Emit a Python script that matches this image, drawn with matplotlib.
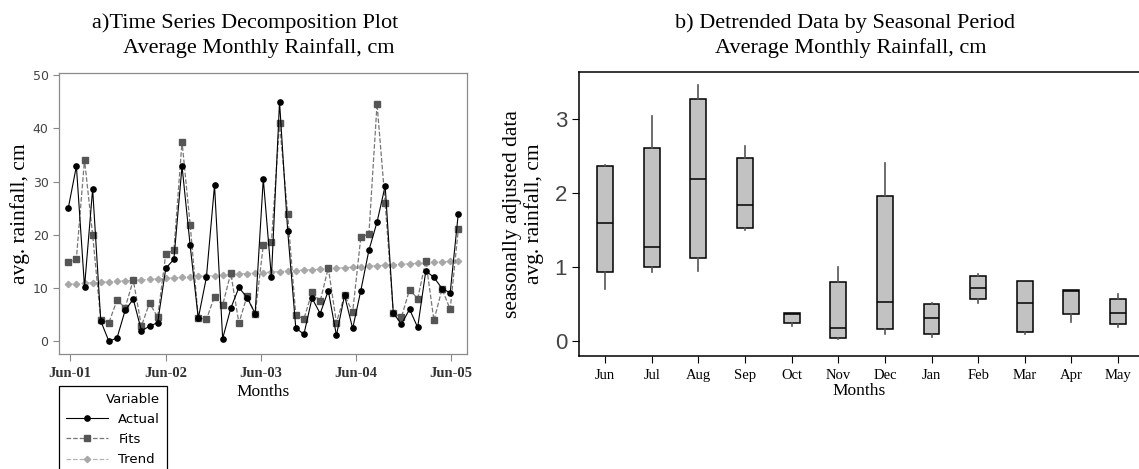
import matplotlib.pyplot as plt

# monthly rainfall series, Jun-01 .. Jun-05
ts_ticks = ['Jun-01', 'Jun-02', 'Jun-03', 'Jun-04', 'Jun-05']
ts_tick_pos = [0.2, 12.0, 23.7, 35.4, 47.1]
actual = [25.0, 32.9, 10.2, 28.6, 3.8, 0.0, 0.6, 5.8, 7.9, 2.0,
          2.8, 3.5, 13.7, 15.4, 32.9, 18.0, 4.3, 12.0, 29.3, 0.5,
          6.2, 10.1, 8.2, 5.2, 30.5, 12.0, 45.0, 20.8, 2.5, 1.3,
          8.1, 5.2, 9.5, 1.1, 8.6, 2.4, 9.5, 17.1, 22.4, 29.2,
          5.3, 3.2, 6.0, 2.6, 13.2, 12.0, 9.9, 9.1, 24.0]
fits = [14.8, 15.5, 34.1, 20.0, 4.0, 3.5, 7.7, 6.3, 11.5, 2.8,
        7.2, 4.5, 16.4, 17.1, 37.5, 21.9, 4.4, 4.1, 8.4, 6.8,
        12.8, 3.4, 8.5, 5.1, 18.0, 18.6, 41.0, 23.9, 4.9, 4.2,
        9.2, 7.5, 13.8, 3.5, 8.6, 5.5, 19.5, 20.2, 44.6, 26.0,
        5.3, 4.5, 9.7, 8.0, 15.1, 3.9, 9.8, 6.0, 21.0]
trend = [10.70, 10.79, 10.88, 10.98, 11.07, 11.16, 11.25, 11.34, 11.43, 11.53,
         11.62, 11.71, 11.80, 11.89, 11.98, 12.08, 12.17, 12.26, 12.35, 12.44,
         12.53, 12.63, 12.72, 12.81, 12.90, 12.99, 13.08, 13.18, 13.27, 13.36,
         13.45, 13.54, 13.63, 13.73, 13.82, 13.91, 14.00, 14.09, 14.18, 14.28,
         14.37, 14.46, 14.55, 14.64, 14.73, 14.83, 14.92, 15.01, 15.10]

# detrended data summarised by calendar month
season = ['Jun', 'Jul', 'Aug', 'Sep', 'Oct', 'Nov', 'Dec', 'Jan', 'Feb', 'Mar', 'Apr', 'May']
q1 = [0.93, 1.00, 1.12, 1.52, 0.24, 0.04, 0.17, 0.09, 0.57, 0.13, 0.36, 0.23]
med = [1.60, 1.27, 2.19, 1.83, 0.36, 0.18, 0.53, 0.31, 0.72, 0.52, 0.68, 0.38]
q3 = [2.36, 2.60, 3.27, 2.47, 0.38, 0.80, 1.96, 0.50, 0.88, 0.81, 0.69, 0.57]
lo = [0.70, 0.93, 0.95, 1.50, 0.21, 0.03, 0.09, 0.05, 0.51, 0.10, 0.26, 0.19]
hi = [2.37, 3.04, 3.45, 2.63, 0.38, 1.00, 2.40, 0.51, 0.91, 0.81, 0.69, 0.63]

W, H = 1139, 469
fig = plt.figure(figsize=(W / 100, H / 100), dpi=100)
serif = 'Liberation Serif'

# ---- a) decomposition plot ----
ax1 = fig.add_axes([59 / W, 1 - 354 / H, 408 / W, 281 / H])
x = list(range(len(actual)))
l_act, = ax1.plot(x, actual, '-o', color='black', lw=0.8, ms=3.8, label='Actual', zorder=4)
l_fit, = ax1.plot(x, fits, '--s', color='#777777', mfc='#555555', mec='#555555', lw=0.9,
                  ms=3.8, label='Fits', zorder=3)
l_tr, = ax1.plot(x, trend, '--D', color='#b5b5b5', mfc='#a8a8a8', mec='#a8a8a8', lw=0.9,
                 ms=3.2, label='Trend', zorder=2)
ax1.set_xlim(-1.14, 49.07)
ax1.set_ylim(-2.4, 50.4)
ax1.set_xticks(ts_tick_pos)
ax1.set_xticklabels(ts_ticks, fontfamily=serif, fontsize=10.5, fontweight='bold', color='#333333')
ax1.set_yticks([0, 10, 20, 30, 40, 50])
ax1.tick_params(axis='y', labelsize=9, labelcolor='#444444', color='#888888', length=4)
ax1.tick_params(axis='x', color='#888888', length=5, pad=4)
for s in ax1.spines.values():
    s.set_color('#8a8a8a')
    s.set_linewidth(0.9)
ax1.set_xlabel('Months', fontfamily=serif, fontsize=12.5, labelpad=3)
ax1.set_ylabel('avg. rainfall, cm', fontfamily=serif, fontsize=15.5, labelpad=2)

leg = ax1.legend(handles=[l_act, l_fit, l_tr], title='Variable', loc='upper left',
                 bbox_to_anchor=(59 / W, 1 - 386 / H), bbox_transform=fig.transFigure,
                 borderaxespad=0, fancybox=False, edgecolor='black', framealpha=1,
                 fontsize=9.5, title_fontsize=9.5, handlelength=3.2, labelspacing=0.55,
                 alignment='right', borderpad=0.5)
leg.get_frame().set_linewidth(0.9)

fig.text(92 / W, 1 - 28 / H, 'a)Time Series Decomposition Plot', fontfamily=serif,
         fontsize=16, va='baseline', ha='left')
fig.text(123 / W, 1 - 53 / H, 'Average Monthly Rainfall, cm', fontfamily=serif,
         fontsize=16, va='baseline', ha='left')

# ---- b) detrended data by season ----
ax2 = fig.add_axes([579 / W, 1 - 356 / H, 1 - 579 / W, 284 / H])
stats = [dict(med=m, q1=a, q3=b, whislo=l, whishi=h, fliers=[])
         for m, a, b, l, h in zip(med, q1, q3, lo, hi)]
pos = list(range(1, len(season) + 1))
ax2.bxp(stats, positions=pos, widths=0.34, showfliers=False, showcaps=False, patch_artist=True,
        boxprops=dict(facecolor='#c2c2c2', edgecolor='black', linewidth=1.1),
        medianprops=dict(color='black', linewidth=1.1),
        whiskerprops=dict(color='#555555', linewidth=1.2))
ax2.set_xlim(0.44, 12.45)
ax2.set_ylim(-0.2, 3.63)
ax2.set_xticks(pos)
ax2.set_xticklabels(season, fontfamily=serif, fontsize=10.5)
ax2.set_yticks([0, 1, 2, 3])
ax2.set_yticklabels(['0', '1', '2', '3'], fontfamily='Liberation Sans', fontsize=16,
                    color='#444444')
ax2.tick_params(axis='y', length=5)
ax2.tick_params(axis='x', length=5, pad=4)
ax2.spines['right'].set_visible(False)
for s in ('left', 'top', 'bottom'):
    ax2.spines[s].set_linewidth(1.1)
ax2.set_xlabel('Months', fontfamily=serif, fontsize=12.5, labelpad=1)
ax2.set_ylabel('seasonally adjusted data\navg. rainfall, cm', fontfamily=serif,
               fontsize=15.5, labelpad=8, linespacing=1.1)

fig.text(675 / W, 1 - 28 / H, 'b) Detrended Data by Seasonal Period', fontfamily=serif,
         fontsize=16, va='baseline', ha='left')
fig.text(715 / W, 1 - 53 / H, 'Average Monthly Rainfall, cm', fontfamily=serif,
         fontsize=16, va='baseline', ha='left')

fig.savefig('out.png', dpi=100)
